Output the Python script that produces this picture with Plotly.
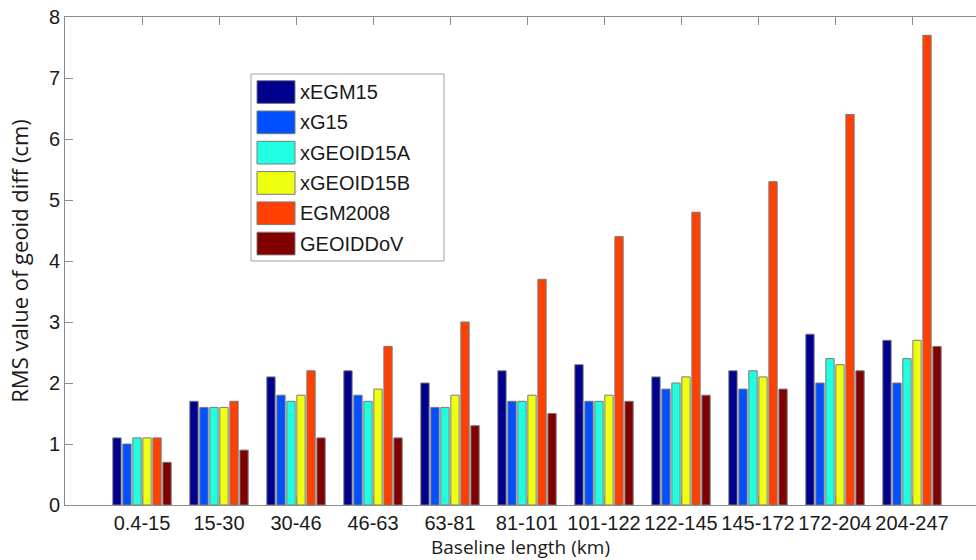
import plotly.graph_objects as go

# Baseline-length bins and RMS of geoid differences (cm) per model
categories = ["0.4-15", "15-30", "30-46", "46-63", "63-81", "81-101",
              "101-122", "122-145", "145-172", "172-204", "204-247"]

xEGM15    = [1.1, 1.7, 2.1, 2.2, 2.0, 2.2, 2.3, 2.1, 2.2, 2.8, 2.7]
xG15      = [1.0, 1.6, 1.8, 1.8, 1.6, 1.7, 1.7, 1.9, 1.9, 2.0, 2.0]
xGEOID15A = [1.1, 1.6, 1.7, 1.7, 1.6, 1.7, 1.7, 2.0, 2.2, 2.4, 2.4]
xGEOID15B = [1.1, 1.6, 1.8, 1.9, 1.8, 1.8, 1.8, 2.1, 2.1, 2.3, 2.7]
EGM2008   = [1.1, 1.7, 2.2, 2.6, 3.0, 3.7, 4.4, 4.8, 5.3, 6.4, 7.7]
GEOIDDoV  = [0.7, 0.9, 1.1, 1.1, 1.3, 1.5, 1.7, 1.8, 1.9, 2.2, 2.6]

series_names = ["xEGM15", "xG15", "xGEOID15A", "xGEOID15B", "EGM2008", "GEOIDDoV"]
series_values = [xEGM15, xG15, xGEOID15A, xGEOID15B, EGM2008, GEOIDDoV]
colors = ["#00008f", "#0050ff", "#20ffdf", "#efff10", "#ff4000", "#800000"]

W, H = 976, 560
ML, MT, MB, MR = 65, 17, 55, 0
PW, PH = W - ML - MR, H - MT - MB
SPACING = 77.0  # px per category unit

x_pos = list(range(1, len(categories) + 1))

fig = go.Figure()
for name, vals, col in zip(series_names, series_values, colors):
    fig.add_trace(go.Bar(
        x=x_pos, y=vals, name=name,
        marker=dict(color=col, line=dict(color="#7a7a7a", width=1)),
        showlegend=False,
    ))

axis_gray = "#8c8c8c"
sans = "Liberation Sans, Arial, sans-serif"
tick_font = dict(family=sans, size=20, color="#1a1a1a")

fig.update_layout(
    width=W, height=H,
    margin=dict(l=ML, r=MR, t=MT, b=MB),
    paper_bgcolor="white", plot_bgcolor="white",
    barmode="group", bargap=0.22, bargroupgap=0.17,
    xaxis=dict(
        range=[0, PW / SPACING],
        tickvals=x_pos, ticktext=categories,
        ticks="inside", ticklen=8, tickcolor=axis_gray, tickwidth=1,
        showline=True, linecolor=axis_gray, linewidth=1, mirror="ticks",
        showgrid=False, zeroline=False,
        tickfont=tick_font,
        title=dict(text="Baseline length (km)",
                   font=dict(family="Open Sans, sans-serif", size=19, color="#1a1a1a"),
                   standoff=1),
    ),
    yaxis=dict(
        range=[0, 8], dtick=1,
        ticks="inside", ticklen=8, tickcolor=axis_gray, tickwidth=1,
        showline=True, linecolor=axis_gray, linewidth=1,
        showgrid=False, zeroline=False,
        tickfont=tick_font,
        title=dict(text="RMS value of geoid diff (cm)",
                   font=dict(family="Open Sans, sans-serif", size=22, color="#1a1a1a"),
                   standoff=14),
    ),
)

# Legend panel with large colour swatches
def px_x(p):
    return (p - ML) / PW

def px_y(p):
    return (H - MB - p) / PH

box_l, box_r, box_t, box_b = 251, 444, 74, 261
fig.add_shape(type="rect", xref="paper", yref="paper",
              x0=px_x(box_l), x1=px_x(box_r), y0=px_y(box_b), y1=px_y(box_t),
              line=dict(color="#a0a0a0", width=1), fillcolor="white", layer="above")

row0, row_step = 80.7, 30.3
for i, (name, col) in enumerate(zip(series_names, colors)):
    top = row0 + i * row_step
    fig.add_shape(type="rect", xref="paper", yref="paper",
                  x0=px_x(257), x1=px_x(295), y0=px_y(top + 22.7), y1=px_y(top),
                  line=dict(color="#7a7a7a", width=1), fillcolor=col, layer="above")
    fig.add_annotation(xref="paper", yref="paper", x=px_x(298), y=px_y(top + 11.5),
                       text=name, showarrow=False, xanchor="left", yanchor="middle",
                       font=dict(family=sans, size=20, color="#1a1a1a"))

fig.write_html("out.html")
